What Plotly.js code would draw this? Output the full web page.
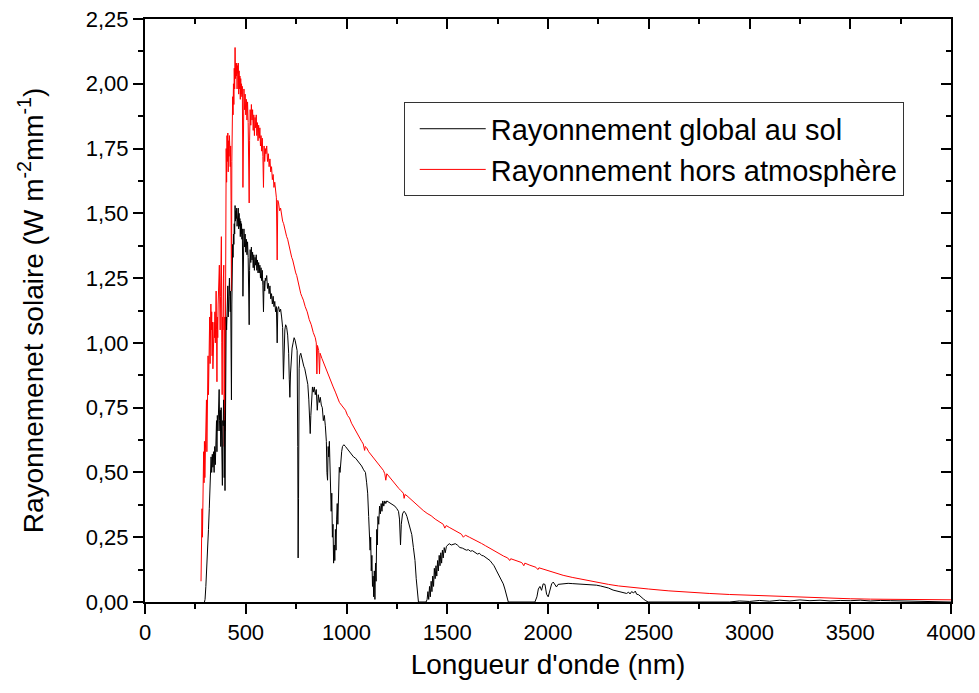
<!DOCTYPE html>
<html>
<head>
<meta charset="utf-8">
<script src="https://cdn.plot.ly/plotly-3.0.1.min.js"></script>
<style>
html,body{margin:0;padding:0;background:#fff;}
#chart{width:979px;height:693px;}
</style>
</head>
<body>
<div id="chart"></div>
<script>
// Extraterrestrial (hors atmosphère) spectrum
const extraWavelength = [
278,281,283,285,287,289,291,293,295,297,
299,301,303,305,307,309,311,313,315,317,
319,321,323,325,327,329,331,333,335,337,
339,341,343,345,347,349,351,353,355,357,
359,361,363,365,367,369,371,373,375,377,
379,381,383,385,387,389,391,393,395,397,
399,401,403,405,407,409,411,413,415,417,
419,421,423,425,427,429,431,433,435,437,
439,441,443,445,447,449,451,453,455,457,
459,461,463,465,467,469,471,473,475,477,
479,481,483,486,489,491,494,497,500,503,
506,509,512,515,517,519,522,525,528,531,
534,537,540,543,546,549,552,555,558,561,
564,567,570,573,576,579,582,585,588,591,
594,597,600,604,608,612,616,620,624,628,
632,636,640,644,648,652,656,659,663,668,
673,678,683,688,693,698,703,708,713,718,
723,728,733,738,743,748,753,758,763,768,
773,778,786,795,805,815,825,835,845,850,
853,856,862,866,869,878,888,898,908,918,
926,934,945,955,965,975,985,995,1005,1015,
1025,1035,1045,1055,1065,1075,1083,1090,1093,1100,
1110,1120,1130,1140,1150,1160,1170,1183,1190,1195,
1200,1210,1220,1230,1240,1250,1260,1270,1282,1286,
1290,1300,1320,1340,1360,1381,1400,1420,1440,1464,
1480,1488,1495,1510,1530,1550,1570,1580,1590,1610,
1630,1650,1670,1690,1710,1730,1745,1760,1780,1800,
1810,1815,1840,1870,1880,1885,1910,1940,1950,1955,
1980,2020,2075,2120,2170,2220,2270,2300,2350,2407,
2450,2500,2600,2700,2800,2900,3000,3100,3200,3300,
3400,3500,3600,3700,3800,3900,4000
];
const extraIrradiance = [
0.08,0.30,0.36,0.25,0.50,0.40,0.58,0.46,0.62,0.48,
0.55,0.52,0.62,0.78,0.58,0.85,0.70,0.95,0.80,1.05,
0.88,1.10,0.92,1.00,1.15,1.05,1.12,0.95,1.08,0.90,
1.05,0.98,1.08,1.02,1.12,1.00,1.08,1.20,1.05,0.85,
1.10,1.02,1.15,1.25,1.18,1.30,1.15,1.05,1.18,1.30,
1.41,1.00,0.80,1.10,1.05,1.25,1.30,0.60,1.10,0.66,
1.30,1.60,1.75,1.62,1.80,1.70,1.81,1.66,1.78,1.72,
1.80,1.75,1.68,1.76,1.55,1.20,1.70,1.85,1.95,1.88,
2.00,1.92,2.06,1.98,2.14,2.02,2.08,2.03,2.08,1.98,
2.07,2.04,2.08,1.96,2.05,1.98,2.03,1.94,2.02,1.96,
2.00,1.95,1.99,1.60,1.94,1.98,1.90,1.96,1.88,1.94,
1.86,1.93,1.85,1.70,1.54,1.78,1.90,1.84,1.92,1.86,
1.90,1.82,1.88,1.80,1.87,1.83,1.88,1.80,1.85,1.78,
1.84,1.79,1.83,1.76,1.80,1.74,1.79,1.72,1.60,1.76,
1.70,1.75,1.73,1.76,1.70,1.73,1.68,1.71,1.66,1.68,
1.63,1.65,1.60,1.62,1.58,1.56,1.32,1.55,1.54,1.51,
1.52,1.49,1.47,1.46,1.44,1.43,1.41,1.40,1.38,1.36,
1.35,1.33,1.32,1.30,1.29,1.27,1.26,1.24,1.22,1.21,
1.19,1.18,1.165,1.14,1.12,1.09,1.07,1.04,1.02,1.00,
0.88,0.99,0.97,0.88,0.96,0.94,0.92,0.90,0.88,0.86,
0.84,0.83,0.81,0.79,0.77,0.76,0.75,0.74,0.72,0.71,
0.69,0.675,0.66,0.645,0.63,0.62,0.61,0.585,0.60,0.595,
0.58,0.57,0.56,0.55,0.54,0.53,0.52,0.508,0.495,0.47,
0.495,0.485,0.475,0.465,0.455,0.445,0.438,0.43,0.42,0.40,
0.415,0.41,0.395,0.38,0.367,0.353,0.342,0.333,0.32,0.307,
0.30,0.285,0.295,0.288,0.28,0.272,0.262,0.25,0.258,0.25,
0.243,0.235,0.226,0.217,0.208,0.199,0.19,0.184,0.177,0.170,
0.160,0.167,0.160,0.152,0.140,0.150,0.142,0.134,0.125,0.132,
0.126,0.116,0.103,0.095,0.087,0.080,0.072,0.068,0.062,0.057,
0.053,0.050,0.043,0.037,0.033,0.029,0.026,0.023,0.020,0.017,
0.0145,0.0125,0.011,0.0102,0.0095,0.009,0.0085
];

// Global irradiance at ground (global au sol)
const groundWavelength = [
295,298,302,306,311,315,319,323,326,328,
331,334,337,340,343,346,349,352,355,357,
359,362,364,366,368,370,372,374,376,378,
380,382,384,386,388,390,392,393,395,397,
399,401,403,405,407,409,411,413,415,417,
419,421,423,425,427,429,431,433,435,437,
439,441,443,445,447,449,451,453,455,457,
459,461,463,465,467,469,471,473,475,477,
479,481,483,486,489,491,494,497,500,503,
506,509,512,515,517,519,522,525,528,531,
534,537,540,543,546,549,552,555,558,561,
564,567,570,573,576,579,582,585,588,591,
594,597,600,604,608,612,616,620,624,628,
632,636,640,644,648,652,656,659,663,668,
673,678,683,687,690,694,698,703,708,713,
716,719,722,725,730,735,740,745,750,755,
758,760,762,765,768,773,778,783,788,793,
798,803,808,813,817,820,823,827,831,835,
840,845,850,855,860,865,870,875,880,885,
890,895,900,903,906,909,912,915,918,921,
924,927,930,933,936,939,942,945,948,951,
954,957,960,964,968,972,976,980,987,995,
1005,1015,1025,1035,1045,1055,1065,1075,1085,1094,
1100,1105,1110,1114,1117,1120,1123,1126,1129,1132,
1135,1138,1141,1144,1147,1150,1153,1156,1160,1164,
1168,1172,1176,1180,1185,1190,1195,1200,1210,1220,
1230,1240,1250,1258,1263,1268,1272,1278,1285,1292,
1300,1310,1318,1324,1332,1340,1346,1352,1357,1395,
1400,1404,1408,1412,1416,1420,1424,1428,1432,1436,
1440,1444,1448,1452,1456,1460,1464,1468,1472,1476,
1480,1485,1490,1496,1502,1510,1520,1530,1540,1550,
1563,1575,1585,1595,1605,1615,1625,1640,1650,1660,
1670,1680,1690,1700,1712,1722,1732,1745,1755,1765,
1778,1786,1795,1803,1935,1945,1952,1960,1968,1976,
1985,1993,2001,2010,2018,2026,2034,2042,2050,2067,
2085,2100,2120,2140,2158,2180,2200,2220,2240,2260,
2280,2300,2323,2340,2360,2375,2390,2400,2407,2415,
2425,2433,2440,2450,2460,2473,2485,2497,2900,2950,
3000,3050,3100,3150,3200,3250,3300,3350,3400,3450,
3500,3550,3600,3650,3700,3750,3800,3850,3900,4000
];
const groundIrradiance = [
0,0.01,0.06,0.12,0.17,0.28,0.36,0.43,0.50,0.56,
0.50,0.57,0.52,0.58,0.50,0.60,0.53,0.62,0.70,0.58,
0.72,0.66,0.80,0.72,0.82,0.70,0.66,0.74,0.60,0.75,
0.50,0.60,0.45,0.70,0.68,0.78,0.72,0.48,0.70,0.43,
0.85,1.00,1.10,1.05,1.15,1.12,1.22,1.10,1.20,1.16,
1.25,1.18,1.12,1.20,1.05,0.78,1.15,1.28,1.38,1.33,
1.42,1.38,1.46,1.42,1.53,1.47,1.51,1.48,1.52,1.45,
1.50,1.49,1.52,1.44,1.50,1.45,1.48,1.41,1.47,1.42,
1.46,1.40,1.44,1.18,1.40,1.44,1.37,1.42,1.35,1.40,
1.34,1.39,1.33,1.22,1.07,1.28,1.36,1.31,1.37,1.32,
1.35,1.29,1.34,1.28,1.33,1.30,1.34,1.28,1.32,1.27,
1.31,1.27,1.30,1.25,1.29,1.24,1.28,1.22,1.12,1.24,
1.20,1.25,1.24,1.26,1.21,1.23,1.19,1.22,1.17,1.19,
1.15,1.18,1.14,1.16,1.12,1.14,1.00,1.13,1.14,1.12,
1.13,1.10,1.06,0.86,0.98,1.05,1.07,1.06,1.03,0.96,
0.86,0.79,0.88,0.93,0.98,1.00,1.02,1.01,0.99,0.97,
0.60,0.17,0.40,0.90,0.95,0.96,0.94,0.93,0.91,0.90,
0.88,0.86,0.84,0.78,0.70,0.65,0.72,0.80,0.83,0.81,
0.83,0.80,0.82,0.74,0.80,0.77,0.79,0.76,0.75,0.70,
0.72,0.68,0.62,0.50,0.47,0.60,0.56,0.62,0.52,0.45,
0.35,0.42,0.25,0.30,0.15,0.22,0.16,0.28,0.20,0.32,
0.38,0.30,0.45,0.52,0.50,0.56,0.58,0.60,0.607,0.60,
0.59,0.58,0.57,0.56,0.555,0.545,0.535,0.525,0.51,0.50,
0.46,0.42,0.33,0.28,0.20,0.25,0.12,0.18,0.06,0.10,
0.02,0.12,0.01,0.15,0.08,0.28,0.22,0.33,0.30,0.37,
0.34,0.38,0.35,0.39,0.37,0.39,0.38,0.39,0.385,0.38,
0.375,0.37,0.36,0.35,0.32,0.22,0.30,0.34,0.35,0.345,
0.33,0.30,0.28,0.26,0.21,0.16,0.09,0.03,0,0,
0.01,0.04,0.01,0.06,0.02,0.08,0.04,0.10,0.06,0.13,
0.09,0.14,0.10,0.16,0.12,0.18,0.14,0.19,0.15,0.20,
0.17,0.21,0.19,0.215,0.22,0.225,0.22,0.223,0.225,0.22,
0.21,0.208,0.205,0.20,0.202,0.196,0.198,0.19,0.185,0.188,
0.18,0.178,0.172,0.168,0.16,0.15,0.14,0.12,0.105,0.09,
0.07,0.05,0.02,0,0,0.02,0.05,0.06,0.045,0.07,
0.068,0.03,0.02,0.05,0.07,0.077,0.065,0.058,0.068,0.07,
0.072,0.072,0.071,0.07,0.07,0.068,0.067,0.066,0.065,0.062,
0.058,0.054,0.046,0.042,0.04,0.036,0.033,0.038,0.031,0.04,
0.035,0.042,0.03,0.028,0.02,0.012,0.005,0,0,0.004,
0.002,0.006,0.003,0.007,0.004,0.008,0.005,0.007,0.004,0.006,
0.005,0.007,0.004,0.006,0.005,0.004,0.003,0.001,0,0
];

const seriesNames = ["Rayonnement global au sol", "Rayonnement hors atmosphère"];
const xTitle = "Longueur d'onde (nm)";
const yTitle = "Rayonnemenet solaire (W m<sup>-2</sup>mm<sup>-1</sup>)";

const FONT = "Liberation Sans, Arial, Helvetica, sans-serif";

const traces = [
  {x: extraWavelength, y: extraIrradiance, type: 'scatter', mode: 'lines',
   name: seriesNames[1], line: {color: '#ff0000', width: 1}},
  {x: groundWavelength, y: groundIrradiance, type: 'scatter', mode: 'lines',
   name: seriesNames[0], line: {color: '#000000', width: 1}},
  // empty trace that only makes the mirrored top/right frame axes appear
  {x: [null], y: [null], xaxis: 'x2', yaxis: 'y2', type: 'scatter', mode: 'lines',
   showlegend: false, hoverinfo: 'skip'}
];

const axisCommon = {
  showline: true, linecolor: '#000', linewidth: 2, mirror: false,
  showgrid: false, zeroline: false,
  tickcolor: '#000', tickwidth: 2, ticklen: 10,
  tickfont: {family: FONT, size: 22, color: '#000'}
};

const layout = {
  width: 979, height: 693,
  margin: {l: 145, r: 28, t: 19, b: 91},
  paper_bgcolor: '#fff', plot_bgcolor: '#fff',
  separators: ', ',
  font: {family: FONT, color: '#000'},
  showlegend: true,
  legend: {
    x: 0.321, y: 0.857, xanchor: 'left', yanchor: 'top',
    bgcolor: '#fff', bordercolor: '#333', borderwidth: 1,
    traceorder: 'reversed',
    font: {family: FONT, size: 29, color: '#000'},
    itemwidth: 66, indentation: 10
  },
  xaxis: Object.assign({}, axisCommon, {
    range: [0, 4000], tick0: 0, dtick: 500, ticks: 'outside',
    minor: {dtick: 250, ticks: 'outside', ticklen: 5, tickwidth: 2, tickcolor: '#000', showgrid: false},
    title: {text: xTitle, font: {family: FONT, size: 28, color: '#000'}, standoff: 10}
  }),
  yaxis: Object.assign({}, axisCommon, {
    range: [0, 2.25], tick0: 0, dtick: 0.25, tickformat: '.2f', ticks: 'outside',
    minor: {dtick: 0.125, ticks: 'outside', ticklen: 5, tickwidth: 2, tickcolor: '#000', showgrid: false},
    title: {text: yTitle, font: {family: FONT, size: 28, color: '#000'}, standoff: 34}
  }),
  xaxis2: Object.assign({}, axisCommon, {
    overlaying: 'x', side: 'top', anchor: 'y2', range: [0, 4000], tick0: 0, dtick: 500,
    ticks: 'inside', showticklabels: false,
    minor: {dtick: 250, ticks: 'inside', ticklen: 5, tickwidth: 2, tickcolor: '#000', showgrid: false}
  }),
  yaxis2: Object.assign({}, axisCommon, {
    overlaying: 'y', side: 'right', anchor: 'x2', range: [0, 2.25], tick0: 0, dtick: 0.25,
    ticks: 'inside', showticklabels: false,
    minor: {dtick: 0.125, ticks: 'inside', ticklen: 5, tickwidth: 2, tickcolor: '#000', showgrid: false}
  })
};

Plotly.newPlot('chart', traces, layout, {displayModeBar: false, staticPlot: true});
</script>
</body>
</html>
